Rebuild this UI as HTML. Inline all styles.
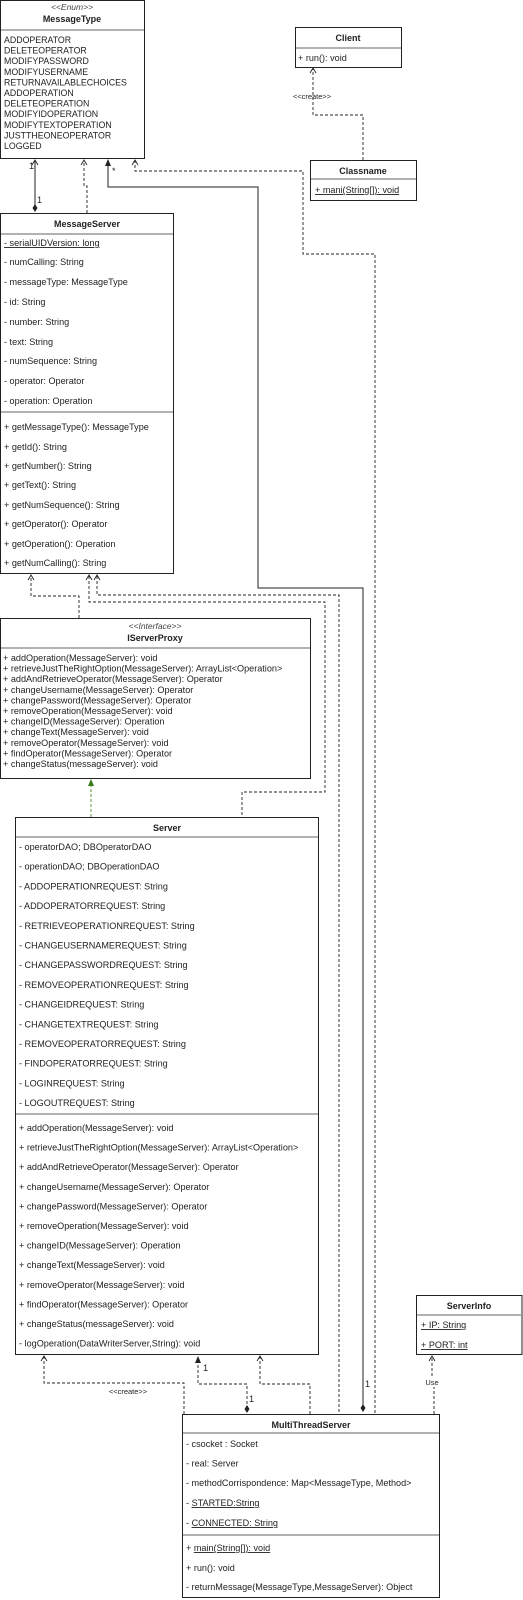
<!DOCTYPE html>
<html><head><meta charset="utf-8"><style>
html,body{margin:0;padding:0;background:#fff;}
svg{display:block;}
text{font-family:"Liberation Sans",Arial,sans-serif;fill:#222;}
.a{font-size:9.1px;}
.e{font-size:8.8px;}
.t{font-size:9px;font-weight:bold;text-anchor:middle;}
.s{font-size:8.5px;font-style:italic;text-anchor:middle;fill:#444;}
.bx{fill:#fff;stroke:#222;stroke-width:1;}
.dv{stroke:#999;stroke-width:1.5;}
.d{fill:none;stroke:#222;stroke-width:0.9;stroke-dasharray:3,2;}
.l{fill:none;stroke:#222;stroke-width:1;}
.oa{fill:none;stroke:#222;stroke-width:0.9;}
</style></head><body>
<svg width="523" height="1600" viewBox="0 0 523 1600" xmlns="http://www.w3.org/2000/svg">
<polyline class="l" points="35,160 35,209"/>
<polyline class="oa" points="32,165 35,160 38,165"/>
<path d="M35,204 l2.5,4 -2.5,4 -2.5,-4z" fill="#222"/>
<text class="a" x="29" y="169">1</text>
<text class="a" x="37" y="203">1</text>
<polyline class="d" points="87,213 87,186 84,186 84,160"/>
<polyline class="oa" points="81,165 84,160 87,165"/>
<polyline class="l" points="108,162 108,187 258,187 258,588 363,588 363,1409"/>
<path d="M108,159 l3,7 -6,0z" fill="#222"/>
<path d="M363,1404 l2.5,4 -2.5,4 -2.5,-4z" fill="#222"/>
<text class="a" x="112" y="174">*</text>
<text class="a" x="365" y="1387">1</text>
<polyline class="d" points="135,160 135,171 303,171 303,254 375,254 375,1414"/>
<polyline class="oa" points="132,165 135,160 138,165"/>
<polyline class="d" points="363,160 363,115 313,115 313,68"/>
<polyline class="oa" points="310,73 313,68 316,73"/>
<text class="a" x="312" y="99" text-anchor="middle" style="font-size:7.5px">&lt;&lt;create&gt;&gt;</text>
<polyline class="d" points="79,618 79,596 31,596 31,575"/>
<polyline class="oa" points="28,580 31,575 34,580"/>
<polyline class="d" points="89,576 89,602 325,602 325,792 242,792 242,817"/>
<polyline class="oa" points="86,580 89,575 92,580"/>
<polyline class="d" points="97,576 97,595 339,595 339,1414"/>
<polyline class="oa" points="94,580 97,575 100,580"/>
<polyline fill="none" stroke="#4a8a2a" stroke-width="0.9" stroke-dasharray="3,2" points="91,817 91,786"/>
<path d="M91,779 l3,7 -6,0z" fill="#3a7a1a"/>
<polyline class="d" points="184,1414 184,1383 44,1383 44,1356"/>
<polyline class="oa" points="41,1361 44,1356 47,1361"/>
<text class="a" x="128" y="1394" text-anchor="middle" style="font-size:7.5px">&lt;&lt;create&gt;&gt;</text>
<polyline class="d" points="247,1409 247,1384 198,1384 198,1362"/>
<path d="M198,1356 l3,7 -6,0z" fill="#222"/>
<path d="M247,1405 l2.5,4 -2.5,4 -2.5,-4z" fill="#222"/>
<text class="a" x="203" y="1371">1</text>
<text class="a" x="249" y="1402">1</text>
<polyline class="d" points="310,1414 310,1384 260,1384 260,1356"/>
<polyline class="oa" points="257,1361 260,1356 263,1361"/>
<polyline class="d" points="434,1414 434,1384 432,1384 432,1356"/>
<polyline class="oa" points="429,1361 432,1356 435,1361"/>
<rect x="424" y="1377" width="18" height="10" fill="#fff"/>
<text class="a" x="432" y="1385" text-anchor="middle" style="font-size:7.5px">Use</text>

<rect class="bx" x="0.5" y="0.5" width="144" height="158"/>
<text class="s" x="72" y="10">&lt;&lt;Enum&gt;&gt;</text>
<text class="t" x="72" y="22">MessageType</text>
<line class="dv" x1="1" y1="30" x2="144" y2="30"/>
<g class="e">
<text x="4" y="43">ADDOPERATOR</text>
<text x="4" y="53.6">DELETEOPERATOR</text>
<text x="4" y="64.2">MODIFYPASSWORD</text>
<text x="4" y="74.8">MODIFYUSERNAME</text>
<text x="4" y="85.4">RETURNAVAILABLECHOICES</text>
<text x="4" y="96">ADDOPERATION</text>
<text x="4" y="106.6">DELETEOPERATION</text>
<text x="4" y="117.2">MODIFYIDOPERATION</text>
<text x="4" y="127.8">MODIFYTEXTOPERATION</text>
<text x="4" y="138.4">JUSTTHEONEOPERATOR</text>
<text x="4" y="149">LOGGED</text>
</g>

<rect class="bx" x="295.5" y="27.5" width="106" height="40"/>
<text class="t" x="348" y="41">Client</text>
<line class="dv" x1="296" y1="48" x2="401" y2="48"/>
<text class="a" x="298" y="61">+ run(): void</text>

<rect class="bx" x="310.5" y="160.5" width="106" height="40"/>
<text class="t" x="363" y="174">Classname</text>
<line class="dv" x1="311" y1="179" x2="416" y2="179"/>
<text class="a" x="315" y="193" text-decoration="underline">+ mani(String[]): void</text>

<rect class="bx" x="0.5" y="213.5" width="173" height="360"/>
<text class="t" x="87" y="227">MessageServer</text>
<line class="dv" x1="1" y1="234" x2="173" y2="234"/>
<g class="a">
<text x="4" y="246" text-decoration="underline">- serialUIDVersion: long</text>
<text x="4" y="265">- numCalling: String</text>
<text x="4" y="285">- messageType: MessageType</text>
<text x="4" y="305">- id: String</text>
<text x="4" y="325">- number: String</text>
<text x="4" y="345">- text: String</text>
<text x="4" y="364">- numSequence: String</text>
<text x="4" y="384">- operator: Operator</text>
<text x="4" y="404">- operation: Operation</text>
</g>
<line class="dv" x1="1" y1="412" x2="173" y2="412"/>
<g class="a">
<text x="4" y="430">+ getMessageType(): MessageType</text>
<text x="4" y="450">+ getId(): String</text>
<text x="4" y="469">+ getNumber(): String</text>
<text x="4" y="488">+ getText(): String</text>
<text x="4" y="508">+ getNumSequence(): String</text>
<text x="4" y="527">+ getOperator(): Operator</text>
<text x="4" y="547">+ getOperation(): Operation</text>
<text x="4" y="566">+ getNumCalling(): String</text>
</g>

<rect class="bx" x="0.5" y="618.5" width="310" height="160"/>
<text class="s" x="155" y="629">&lt;&lt;Interface&gt;&gt;</text>
<text class="t" x="155" y="641">IServerProxy</text>
<line class="dv" x1="1" y1="648" x2="310" y2="648"/>
<g class="a">
<text x="3" y="661">+ addOperation(MessageServer): void</text>
<text x="3" y="671.6">+ retrieveJustTheRightOption(MessageServer): ArrayList&lt;Operation&gt;</text>
<text x="3" y="682.2">+ addAndRetrieveOperator(MessageServer): Operator</text>
<text x="3" y="692.8">+ changeUsername(MessageServer): Operator</text>
<text x="3" y="703.4">+ changePassword(MessageServer): Operator</text>
<text x="3" y="714">+ removeOperation(MessageServer): void</text>
<text x="3" y="724.6">+ changeID(MessageServer): Operation</text>
<text x="3" y="735.2">+ changeText(MessageServer): void</text>
<text x="3" y="745.8">+ removeOperator(MessageServer): void</text>
<text x="3" y="756.4">+ findOperator(MessageServer): Operator</text>
<text x="3" y="767">+ changeStatus(messageServer): void</text>
</g>

<rect class="bx" x="15.5" y="817.5" width="303" height="537"/>
<text class="t" x="167" y="831">Server</text>
<line class="dv" x1="16" y1="837" x2="318" y2="837"/>
<g class="a">
<text x="19" y="850">- operatorDAO; DBOperatorDAO</text>
<text x="19" y="869.7">- operationDAO; DBOperationDAO</text>
<text x="19" y="889.4">- ADDOPERATIONREQUEST: String</text>
<text x="19" y="909.1">- ADDOPERATORREQUEST: String</text>
<text x="19" y="928.8">- RETRIEVEOPERATIONREQUEST: String</text>
<text x="19" y="948.5">- CHANGEUSERNAMEREQUEST: String</text>
<text x="19" y="968.2">- CHANGEPASSWORDREQUEST: String</text>
<text x="19" y="987.9">- REMOVEOPERATIONREQUEST: String</text>
<text x="19" y="1007.6">- CHANGEIDREQUEST: String</text>
<text x="19" y="1027.3">- CHANGETEXTREQUEST: String</text>
<text x="19" y="1047">- REMOVEOPERATORREQUEST: String</text>
<text x="19" y="1066.7">- FINDOPERATORREQUEST: String</text>
<text x="19" y="1086.4">- LOGINREQUEST: String</text>
<text x="19" y="1106.1">- LOGOUTREQUEST: String</text>
</g>
<line class="dv" x1="16" y1="1114" x2="318" y2="1114"/>
<g class="a">
<text x="19" y="1131">+ addOperation(MessageServer): void</text>
<text x="19" y="1150.6">+ retrieveJustTheRightOption(MessageServer): ArrayList&lt;Operation&gt;</text>
<text x="19" y="1170.2">+ addAndRetrieveOperator(MessageServer): Operator</text>
<text x="19" y="1189.8">+ changeUsername(MessageServer): Operator</text>
<text x="19" y="1209.4">+ changePassword(MessageServer): Operator</text>
<text x="19" y="1229">+ removeOperation(MessageServer): void</text>
<text x="19" y="1248.6">+ changeID(MessageServer): Operation</text>
<text x="19" y="1268.2">+ changeText(MessageServer): void</text>
<text x="19" y="1287.8">+ removeOperator(MessageServer): void</text>
<text x="19" y="1307.4">+ findOperator(MessageServer): Operator</text>
<text x="19" y="1327">+ changeStatus(messageServer): void</text>
<text x="19" y="1346.6">- logOperation(DataWriterServer,String): void</text>
</g>

<rect class="bx" x="416.5" y="1295.5" width="105.5" height="59"/>
<text class="t" x="469" y="1309">ServerInfo</text>
<line class="dv" x1="417" y1="1315" x2="522" y2="1315"/>
<text class="a" x="421" y="1328" text-decoration="underline">+ IP: String</text>
<text class="a" x="421" y="1348" text-decoration="underline">+ PORT: int</text>

<rect class="bx" x="182.5" y="1414.5" width="257" height="183"/>
<text class="t" x="311" y="1428">MultiThreadServer</text>
<line class="dv" x1="183" y1="1433" x2="439" y2="1433"/>
<g class="a">
<text x="186" y="1447">- csocket : Socket</text>
<text x="186" y="1466.5">- real: Server</text>
<text x="186" y="1486">- methodCorrispondence: Map&lt;MessageType, Method&gt;</text>
<text x="186" y="1506">- <tspan text-decoration="underline">STARTED:String</tspan></text>
<text x="186" y="1526">- <tspan text-decoration="underline">CONNECTED: String</tspan></text>
</g>
<line class="dv" x1="183" y1="1535" x2="439" y2="1535"/>
<g class="a">
<text x="186" y="1551">+ <tspan text-decoration="underline">main(String[]): void</tspan></text>
<text x="186" y="1571">+ run(): void</text>
<text x="186" y="1590">- returnMessage(MessageType,MessageServer): Object</text>
</g>
</svg>
</body></html>
